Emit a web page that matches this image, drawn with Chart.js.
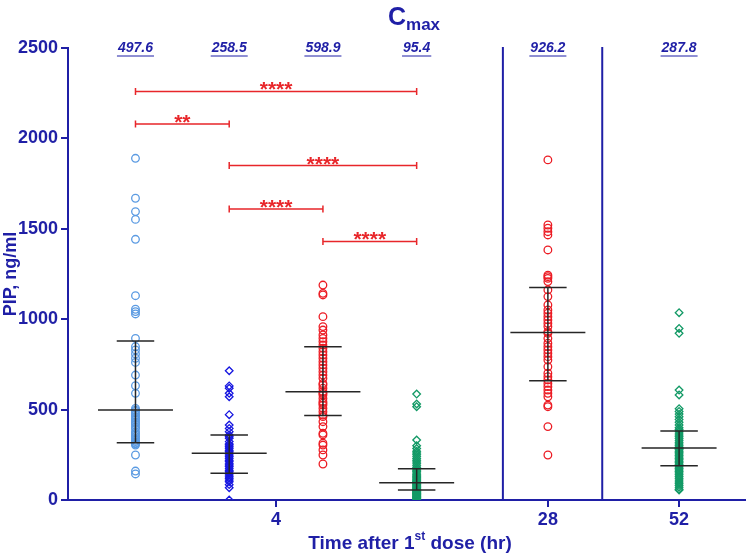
<!DOCTYPE html>
<html>
<head>
<meta charset="utf-8">
<script src="https://cdn.jsdelivr.net/npm/chart.js@4.4.0/dist/chart.umd.min.js"></script>
<style>
    body { margin: 0; background: #fff; }
    #wrap { width: 750px; height: 555px; }
</style>
</head>
<body>
<div id="wrap"><canvas id="cmaxChart" width="750" height="555"></canvas></div>
<script>
// Data (PIP concentration, ng/ml)
const groupNames = ['4h-a', '4h-b', '4h-c', '4h-d', '28h', '52h'];
const group1 = [1890, 1669, 1595, 1552, 1442, 1130, 1055, 1042, 1029, 894, 848, 830, 808, 784, 761, 691, 632, 590, 507, 497, 490, 479, 470, 461, 450, 442, 430, 424, 415, 402, 395, 378, 370, 360, 350, 341, 330, 323, 315, 310, 304, 249, 160, 144];
const group2 = [715, 631, 618, 590, 571, 472, 415, 396, 378, 360, 350, 341, 323, 310, 304, 295, 286, 275, 267, 258, 249, 240, 231, 220, 212, 200, 194, 185, 175, 165, 157, 148, 138, 128, 120, 110, 101, 85, 68, 0];
const group3 = [1189, 1143, 1134, 1014, 959, 940, 913, 894, 876, 857, 839, 820, 802, 784, 765, 747, 729, 710, 691, 673, 645, 636, 618, 599, 590, 581, 562, 544, 535, 525, 507, 488, 470, 461, 433, 406, 369, 360, 314, 304, 277, 249, 199];
const group4 = [586, 531, 516, 332, 300, 285, 270, 260, 250, 240, 230, 220, 210, 200, 190, 180, 172, 165, 158, 150, 143, 137, 130, 124, 118, 112, 107, 102, 98, 95, 92, 88, 84, 80, 76, 72, 68, 64, 60, 57, 54, 51, 48, 45, 42, 39, 36, 33, 30, 27, 24, 21, 18, 15, 12, 9, 6, 3];
const group5 = [1881, 1521, 1503, 1484, 1466, 1383, 1244, 1235, 1226, 1208, 1162, 1125, 1079, 1051, 1033, 1014, 996, 977, 959, 931, 922, 894, 867, 848, 830, 811, 793, 774, 737, 701, 682, 664, 645, 627, 608, 590, 571, 525, 516, 406, 249];
const group6 = [1036, 949, 922, 608, 581, 505, 490, 475, 460, 445, 430, 415, 400, 390, 380, 370, 360, 350, 340, 330, 320, 310, 300, 292, 288, 284, 278, 270, 262, 254, 246, 238, 230, 222, 214, 206, 198, 190, 182, 174, 166, 158, 150, 140, 130, 120, 110, 100, 90, 80, 70, 60, 55];

const medians = [497.6, 258.5, 598.9, 95.4, 926.2, 287.8];
const medianLabels = ['497.6', '258.5', '598.9', '95.4', '926.2', '287.8'];
const q1 = [317, 148, 468, 55, 660, 190];
const q3 = [879, 360, 848, 173, 1175, 382];

// significance comparisons (group index from, to, bracket height, label)
const compFrom = [0, 0, 1, 1, 2];
const compTo = [3, 1, 3, 2, 3];
const compY = [2260, 2080, 1850, 1610, 1430];
const compLabel = ['****', '**', '****', '****', '****'];

const xTickValues = [2.5, 5.4, 6.8];
const xTickLabels = ['4', '28', '52'];
const separatorSlots = [4.92, 5.98];

// Layout / style
const groupSlots = [1, 2, 3, 4, 5.4, 6.8];
const groupColors = ['#5a9ae2', '#1717e0', '#ec1c24', '#139a66', '#ec1c24', '#139a66'];
const groupShapes = ['circle', 'rectRot', 'circle', 'rectRot', 'circle', 'rectRot'];
const navy = '#1f1fa6';
const sigRed = '#e8262a';
const fontFam = "'Liberation Sans', Arial, sans-serif";
const narrowFam = "'Liberation Sans Narrow', 'Arial Narrow', 'Liberation Sans', Arial, sans-serif";

const allGroups = [group1, group2, group3, group4, group5, group6];

const datasets = allGroups.map((vals, i) => ({
    label: groupNames[i],
    data: vals.map(v => ({ x: groupSlots[i], y: v })),
    pointStyle: groupShapes[i],
    pointRadius: 3.8,
    pointBorderWidth: 1.3,
    pointBorderColor: groupColors[i],
    pointBackgroundColor: 'rgba(255,255,255,0)',
    showLine: false
}));

// Extra drawing: separators, median/IQR lines, brackets, labels, titles
const overlayPlugin = {
    id: 'overlay',
    afterDatasetsDraw(chart) {
        const ctx = chart.ctx;
        const xs = chart.scales.x;
        const ys = chart.scales.y;
        ctx.save();

        // vertical separators
        ctx.strokeStyle = navy;
        ctx.lineWidth = 2;
        separatorSlots.forEach(s => {
            const px = xs.getPixelForValue(s);
            ctx.beginPath();
            ctx.moveTo(px, ys.getPixelForValue(2500) - 1);
            ctx.lineTo(px, ys.getPixelForValue(0));
            ctx.stroke();
        });

        // median + IQR lines
        ctx.strokeStyle = '#262626';
        ctx.lineWidth = 1.5;
        groupSlots.forEach((slot, i) => {
            const cx = xs.getPixelForValue(slot);
            const wMed = xs.getPixelForValue(slot + 0.4) - cx;
            const wIqr = xs.getPixelForValue(slot + 0.2) - cx;
            const yMed = ys.getPixelForValue(medians[i]);
            const yQ1 = ys.getPixelForValue(q1[i]);
            const yQ3 = ys.getPixelForValue(q3[i]);
            ctx.beginPath();
            ctx.moveTo(cx - wMed, yMed); ctx.lineTo(cx + wMed, yMed);
            ctx.moveTo(cx - wIqr, yQ1); ctx.lineTo(cx + wIqr, yQ1);
            ctx.moveTo(cx - wIqr, yQ3); ctx.lineTo(cx + wIqr, yQ3);
            ctx.moveTo(cx, yQ1); ctx.lineTo(cx, yQ3);
            ctx.stroke();
        });

        // significance brackets
        ctx.strokeStyle = sigRed;
        ctx.fillStyle = sigRed;
        ctx.lineWidth = 1.5;
        ctx.font = 'bold 21px ' + fontFam;
        ctx.textAlign = 'center';
        ctx.textBaseline = 'alphabetic';
        compFrom.forEach((a, k) => {
            const x1 = xs.getPixelForValue(groupSlots[a]);
            const x2 = xs.getPixelForValue(groupSlots[compTo[k]]);
            const py = ys.getPixelForValue(compY[k]);
            ctx.beginPath();
            ctx.moveTo(x1, py); ctx.lineTo(x2, py);
            ctx.moveTo(x1, py - 3.5); ctx.lineTo(x1, py + 3.5);
            ctx.moveTo(x2, py - 3.5); ctx.lineTo(x2, py + 3.5);
            ctx.stroke();
            ctx.fillText(compLabel[k], (x1 + x2) / 2, py + 5);
        });

        // median labels along the top
        ctx.fillStyle = navy;
        ctx.strokeStyle = navy;
        ctx.lineWidth = 1;
        ctx.font = 'italic bold 14px ' + fontFam;
        ctx.textBaseline = 'middle';
        const topY = ys.getPixelForValue(2500);
        groupSlots.forEach((slot, i) => {
            const cx = xs.getPixelForValue(slot);
            ctx.fillText(medianLabels[i], cx, topY);
            const w = ctx.measureText(medianLabels[i]).width;
            ctx.beginPath();
            ctx.moveTo(cx - w / 2 - 1, topY + 8);
            ctx.lineTo(cx + w / 2 + 1, topY + 8);
            ctx.stroke();
        });

        // title C_max
        ctx.textAlign = 'left';
        ctx.textBaseline = 'alphabetic';
        ctx.font = 'bold 25px ' + fontFam;
        ctx.fillText('C', 388, 25);
        const cW = ctx.measureText('C').width;
        ctx.font = 'bold 17px ' + fontFam;
        ctx.fillText('max', 388 + cW, 30);

        // x title with superscript
        const p1 = 'Time after 1', sup = 'st', p2 = ' dose (hr)';
        ctx.font = 'bold 19px ' + narrowFam;
        const w1 = ctx.measureText(p1).width;
        const w3 = ctx.measureText(p2).width;
        ctx.font = 'bold 12px ' + narrowFam;
        const w2 = ctx.measureText(sup).width;
        const startX = 410 - (w1 + w2 + w3) / 2;
        ctx.font = 'bold 19px ' + narrowFam;
        ctx.fillText(p1, startX, 549);
        ctx.fillText(p2, startX + w1 + w2, 549);
        ctx.font = 'bold 12px ' + narrowFam;
        ctx.fillText(sup, startX + w1, 540);

        ctx.restore();
    }
};

new Chart(document.getElementById('cmaxChart').getContext('2d'), {
    type: 'scatter',
    data: { datasets: datasets },
    options: {
        responsive: false,
        animation: false,
        layout: { padding: { top: 48, right: 2, left: 0, bottom: 0 } },
        plugins: {
            legend: { display: false },
            tooltip: { enabled: false }
        },
        scales: {
            x: {
                type: 'linear',
                min: 0.28,
                max: 7.5,
                afterFit: scale => { scale.height = 55; },
                afterBuildTicks: scale => {
                    scale.ticks = xTickValues.map(v => ({ value: v }));
                },
                grid: { drawOnChartArea: false, drawTicks: true, tickLength: 7, color: navy, lineWidth: 2 },
                border: { color: navy, width: 2 },
                ticks: {
                    color: navy,
                    padding: 2,
                    font: { family: fontFam, size: 18, weight: 'bold' },
                    callback: (v, i) => xTickLabels[i]
                }
            },
            y: {
                min: 0,
                max: 2500,
                afterFit: scale => { scale.width = 68; },
                grid: { drawOnChartArea: false, drawTicks: true, tickLength: 7, color: navy, lineWidth: 2 },
                border: { color: navy, width: 2 },
                ticks: {
                    stepSize: 500,
                    color: navy,
                    padding: 3,
                    font: { family: fontFam, size: 18, weight: 'bold' },
                    callback: v => String(v)
                },
                title: {
                    display: true,
                    text: 'PIP, ng/ml',
                    color: navy,
                    padding: 0,
                    font: { family: fontFam, size: 18, weight: 'bold' }
                }
            }
        }
    },
    plugins: [overlayPlugin]
});
</script>
</body>
</html>
